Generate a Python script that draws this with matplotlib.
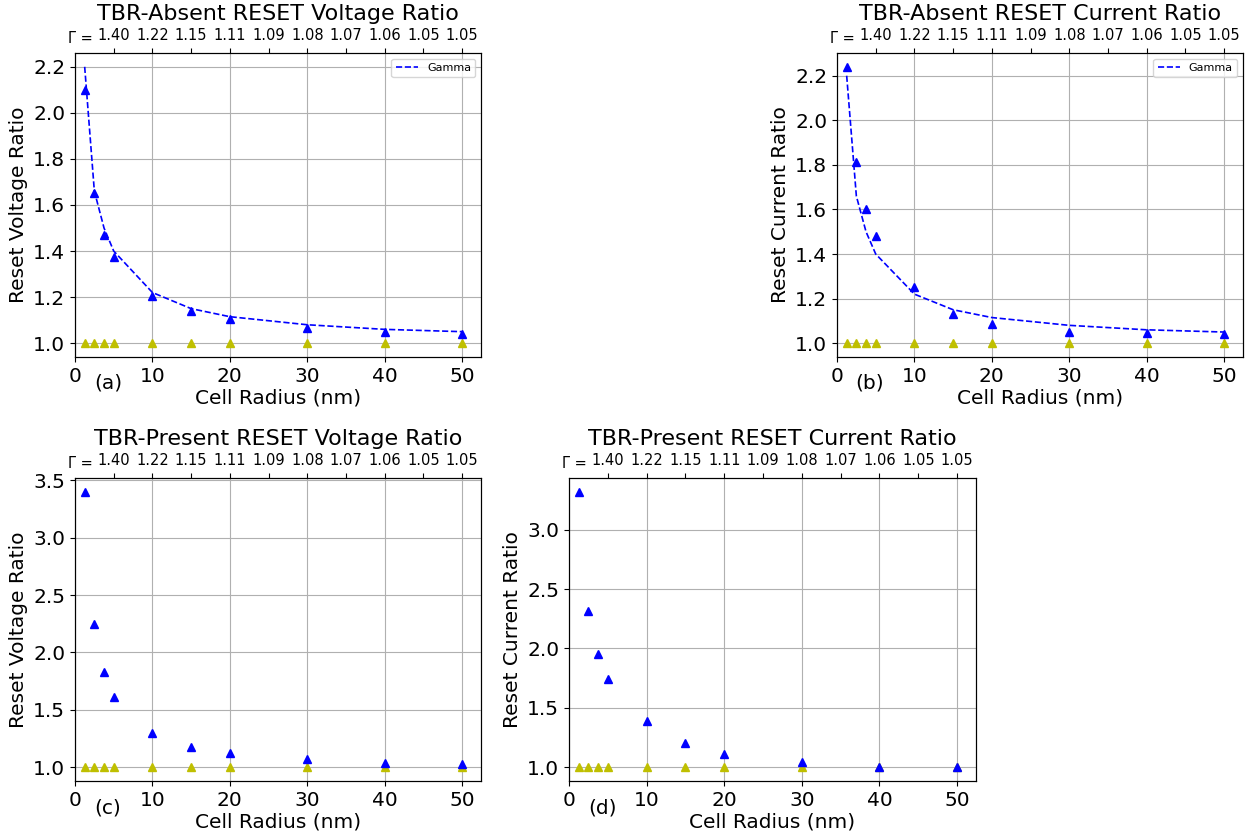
import matplotlib
matplotlib.use("Agg")
import matplotlib.pyplot as plt
import matplotlib.transforms as mtransforms

# cell radius (nm)
radius = [1.25, 2.5, 3.75, 5, 10, 15, 20, 30, 40, 50]

# gamma curve (dashed line on the TBR-absent panels)
gamma = [2.2, 1.66, 1.5, 1.4, 1.22, 1.15, 1.115, 1.08, 1.06, 1.05]

# ratios
absent_voltage = [2.1, 1.65, 1.47, 1.375, 1.205, 1.14, 1.105, 1.065, 1.05, 1.04]
absent_current = [2.24, 1.815, 1.6, 1.48, 1.25, 1.13, 1.085, 1.05, 1.045, 1.04]
present_voltage = [3.4, 2.25, 1.83, 1.61, 1.30, 1.18, 1.125, 1.075, 1.04, 1.03]
present_current = [3.32, 2.32, 1.95, 1.74, 1.39, 1.20, 1.115, 1.045, 1.005, 1.0]
baseline = [1.0] * len(radius)

# top axis labels
gamma_ticks = [5, 10, 15, 20, 25, 30, 35, 40, 45, 50]
gamma_labels = ["1.40", "1.22", "1.15", "1.11", "1.09", "1.08", "1.07", "1.06", "1.05", "1.05"]

W, H = 1251, 839
fig = plt.figure(figsize=(W / 100, H / 100), dpi=100)


def make_panel(box, values, title, ylabel, tag, show_gamma):
    left, top, right, bottom = box
    ax = fig.add_axes([left / W, 1 - bottom / H, (right - left) / W, (bottom - top) / H])
    ax.plot(radius, baseline, "y^", linestyle="none")
    ax.plot(radius, values, "b^", linestyle="none")
    if show_gamma:
        ax.plot(radius, gamma, "b--", lw=1.2, label="Gamma")
        ax.legend(loc="upper right", fontsize=8)
    ax.set_xlim(0, 52.44)
    ax.grid(True)
    ax.tick_params(labelsize=14.5)
    ax.set_xlabel("Cell Radius (nm)", fontsize=14.5, labelpad=2)
    ax.set_ylabel(ylabel, fontsize=14.5)

    # top axis with gamma values
    ax2 = ax.twiny()
    ax2.set_xlim(ax.get_xlim())
    ax2.set_xticks(gamma_ticks)
    ax2.set_xticklabels(gamma_labels, fontsize=10.5)
    # "Γ =" sits on the same row as the top tick labels
    offset = mtransforms.ScaledTranslation(0, 7 / 72, fig.dpi_scale_trans)
    ax2.text(0.65, 1.0, "Γ =", fontsize=10.5, ha="center", va="baseline",
             transform=ax2.get_xaxis_transform() + offset)
    ax2.set_title(title, fontsize=16)

    fig.text((left + tag[1]) / W, 1 - tag[2] / H, tag[0], fontsize=14.5,
             ha="center", va="center")
    return ax


make_panel((75, 53, 481, 357), absent_voltage, "TBR-Absent RESET Voltage Ratio",
           "Reset Voltage Ratio", ("(a)", 33, 383), True)
make_panel((837, 53, 1243, 357), absent_current, "TBR-Absent RESET Current Ratio",
           "Reset Current Ratio", ("(b)", 33, 383), True)
make_panel((75, 478, 481, 781), present_voltage, "TBR-Present RESET Voltage Ratio",
           "Reset Voltage Ratio", ("(c)", 33, 808), False)
make_panel((569, 478, 976, 781), present_current, "TBR-Present RESET Current Ratio",
           "Reset Current Ratio", ("(d)", 34, 808), False)

fig.savefig("out.png", dpi=100)
